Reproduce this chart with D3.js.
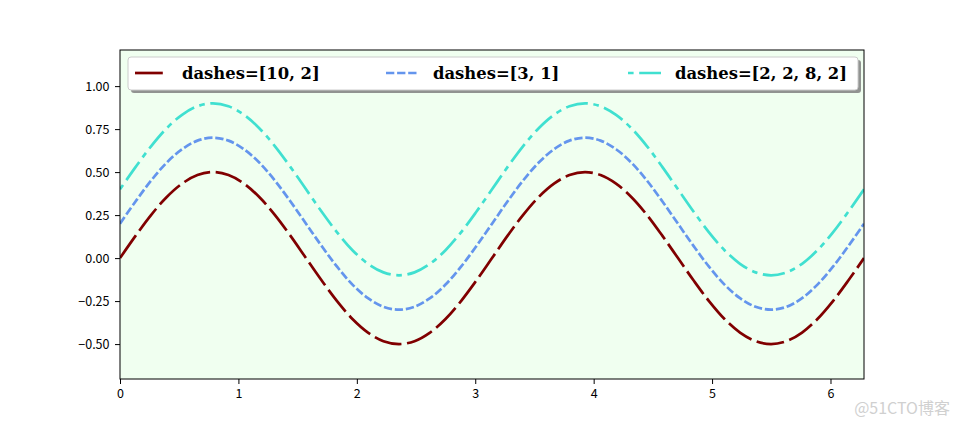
<!DOCTYPE html>
<html><head><meta charset="utf-8">
<script src="https://cdn.jsdelivr.net/npm/d3@7"></script>
<style>body{margin:0;background:#fff;} svg{display:block;}</style>
</head><body>
<svg id="c" width="960" height="426"></svg>
<script>
const xs = [0, 0.131, 0.262, 0.393, 0.524, 0.654, 0.785, 0.916, 1.047, 1.178, 1.309, 1.440, 1.571, 1.702, 1.833, 1.963, 2.094, 2.225, 2.356, 2.487, 2.618, 2.749, 2.880, 3.011, 3.142, 3.272, 3.403, 3.534, 3.665, 3.796, 3.927, 4.058, 4.189, 4.320, 4.451, 4.581, 4.712, 4.843, 4.974, 5.105, 5.236, 5.367, 5.498, 5.629, 5.760, 5.890, 6.021, 6.152, 6.283];
const seriesA = [0, 0.129, 0.25, 0.354, 0.433, 0.483, 0.5, 0.483, 0.433, 0.354, 0.25, 0.129, 0, -0.129, -0.25, -0.354, -0.433, -0.483, -0.5, -0.483, -0.433, -0.354, -0.25, -0.129,
                 0, 0.129, 0.25, 0.354, 0.433, 0.483, 0.5, 0.483, 0.433, 0.354, 0.25, 0.129, 0, -0.129, -0.25, -0.354, -0.433, -0.483, -0.5, -0.483, -0.433, -0.354, -0.25, -0.129, 0];
const seriesB = [0.2, 0.329, 0.45, 0.554, 0.633, 0.683, 0.7, 0.683, 0.633, 0.554, 0.45, 0.329, 0.2, 0.071, -0.05, -0.154, -0.233, -0.283, -0.3, -0.283, -0.233, -0.154, -0.05, 0.071,
                 0.2, 0.329, 0.45, 0.554, 0.633, 0.683, 0.7, 0.683, 0.633, 0.554, 0.45, 0.329, 0.2, 0.071, -0.05, -0.154, -0.233, -0.283, -0.3, -0.283, -0.233, -0.154, -0.05, 0.071, 0.2];
const seriesC = [0.4, 0.529, 0.65, 0.754, 0.833, 0.883, 0.9, 0.883, 0.833, 0.754, 0.65, 0.529, 0.4, 0.271, 0.15, 0.046, -0.033, -0.083, -0.1, -0.083, -0.033, 0.046, 0.15, 0.271,
                 0.4, 0.529, 0.65, 0.754, 0.833, 0.883, 0.9, 0.883, 0.833, 0.754, 0.65, 0.529, 0.4, 0.271, 0.15, 0.046, -0.033, -0.083, -0.1, -0.083, -0.033, 0.046, 0.15, 0.271, 0.4];
const labels = ["dashes=[10, 2]", "dashes=[3, 1]", "dashes=[2, 2, 8, 2]"];
const colors = ["#800000", "#6495ED", "#40E0D0"];
const dashes = ["27.8,5.6", "8.3,2.8", "5.6,5.6,22.2,5.6"];
const xTicks = [0, 1, 2, 3, 4, 5, 6];
const yTicks = [-0.5, -0.25, 0, 0.25, 0.5, 0.75, 1.0];

const svg = d3.select("#c");
const L = 120, R = 864, T = 50, B = 379;
const x = d3.scaleLinear().domain([0, 6.283]).range([L, R]);
const y = d3.scaleLinear().domain([-0.703, 1.21]).range([B, T]);

svg.append("rect").attr("x", L).attr("y", T).attr("width", R - L).attr("height", B - T).attr("fill", "#F0FFF0");

const series = [seriesA, seriesB, seriesC];
const line = d3.line().x(d => x(d[0])).y(d => y(d[1])).curve(d3.curveCatmullRom);
svg.append("defs").append("clipPath").attr("id", "clip").append("rect")
  .attr("x", L).attr("y", T).attr("width", R - L).attr("height", B - T);
series.forEach((s, i) => {
  svg.append("path").attr("clip-path", "url(#clip)")
    .datum(xs.map((v, k) => [v, s[k]]))
    .attr("d", line).attr("fill", "none")
    .attr("stroke", colors[i]).attr("stroke-width", 2.7)
    .attr("stroke-dasharray", dashes[i]);
});

const tickFont = "'Noto Sans CJK SC', 'DejaVu Sans', sans-serif";
const xa = svg.append("g").attr("transform", `translate(0,${B})`)
  .call(d3.axisBottom(x).tickValues(xTicks).tickFormat(d3.format("d")).tickSizeOuter(0).tickSize(5));
const ya = svg.append("g").attr("transform", `translate(${L},0)`)
  .call(d3.axisLeft(y).tickValues(yTicks).tickFormat(d3.format(".2f")).tickSizeOuter(0).tickSize(5));
[xa, ya].forEach(a => {
  a.select(".domain").remove();
  a.selectAll("text").attr("font-family", tickFont).attr("font-size", 12.5).attr("fill", "#000");
  a.selectAll("line").attr("stroke", "#000").attr("stroke-width", 1);
});
xa.selectAll("text").attr("dy", "0.9em");
ya.selectAll("text").attr("dx", "-0.2em");

svg.append("rect").attr("x", L).attr("y", T).attr("width", R - L).attr("height", B - T)
  .attr("fill", "none").attr("stroke", "#000").attr("stroke-width", 1);

// legend
const lg = svg.append("g");
lg.append("rect").attr("x", 131).attr("y", 60).attr("width", 730).attr("height", 33).attr("rx", 3)
  .attr("fill", "#808080").attr("opacity", 0.85);
lg.append("rect").attr("x", 128).attr("y", 57).attr("width", 730).attr("height", 33).attr("rx", 3)
  .attr("fill", "#fff").attr("stroke", "#ccc").attr("stroke-width", 1);
const lx = [135, 386, 628];
labels.forEach((lab, i) => {
  lg.append("line").attr("x1", lx[i]).attr("x2", lx[i] + 33).attr("y1", 73).attr("y2", 73)
    .attr("stroke", colors[i]).attr("stroke-width", 2.7).attr("stroke-dasharray", dashes[i]);
  lg.append("text").attr("x", lx[i] + 47).attr("y", 73).attr("dy", "0.35em")
    .attr("font-family", "'DejaVu Serif', serif").attr("font-weight", "bold").attr("font-size", 16.4)
    .text(lab);
});

svg.append("text").attr("x", 950).attr("y", 414).attr("text-anchor", "end")
  .attr("font-family", "'Noto Sans CJK SC', sans-serif").attr("font-size", 16).attr("fill", "#d0d0d0")
  .text("@51CTO博客");
</script>
</body></html>
